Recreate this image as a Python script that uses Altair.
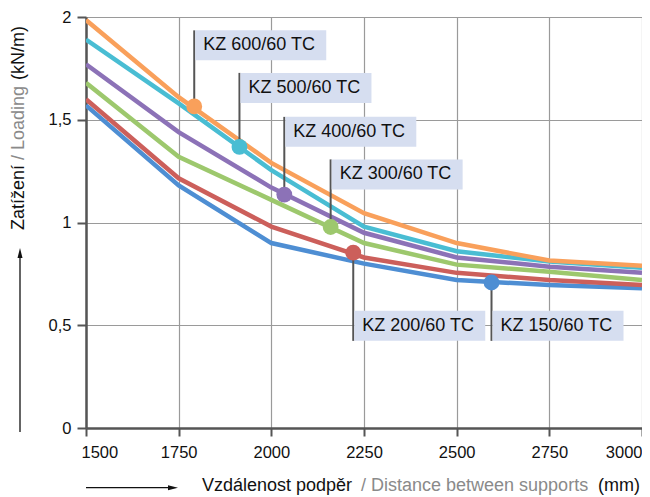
import altair as alt
import pandas as pd

# ---------------- data ----------------
distances = [1500, 1750, 2000, 2250, 2500, 2750, 3000]
series_names = ["KZ 150/60 TC", "KZ 200/60 TC", "KZ 300/60 TC",
                "KZ 400/60 TC", "KZ 500/60 TC", "KZ 600/60 TC"]
kz150 = [1.57, 1.18, 0.90, 0.80, 0.72, 0.696, 0.68]
kz200 = [1.60, 1.215, 0.98, 0.83, 0.755, 0.72, 0.696]
kz300 = [1.68, 1.32, 1.11, 0.90, 0.795, 0.76, 0.72]
kz400 = [1.77, 1.44, 1.17, 0.95, 0.83, 0.785, 0.755]
kz500 = [1.89, 1.58, 1.255, 0.98, 0.86, 0.81, 0.78]
kz600 = [1.985, 1.61, 1.29, 1.045, 0.90, 0.815, 0.79]
series_values = [kz150, kz200, kz300, kz400, kz500, kz600]
series_colors = ["#4e8ed3", "#cc5f5b", "#9dc86d", "#8c72b7", "#49bdd3", "#f9a05b"]

marker_x = [2594, 2221, 2160, 2035, 1914, 1792]
marker_y = [0.708, 0.853, 0.978, 1.136, 1.368, 1.565]
label_top = [0.570, 0.570, 1.307, 1.514, 1.728, 1.935]
label_below = [True, True, False, False, False, False]

y_ticks = [0, 0.5, 1, 1.5, 2]

# ---------------- layout ----------------
W, H = 556, 411
Y_MAX = 2.0
BOX_H = 30 * Y_MAX / H
FONT = "Liberation Sans"

rows = []
for name, vals in zip(series_names, series_values):
    for d, v in zip(distances, vals):
        rows.append({"series": name, "distance": d, "load": v})
df = pd.DataFrame(rows)

lab = pd.DataFrame({"series": series_names, "mx": marker_x, "my": marker_y,
                    "top": label_top})
lab["bottom"] = lab["top"] - BOX_H
lab["lead_end"] = [b if below else t for b, t, below in
                   zip(lab["bottom"], lab["top"], label_below)]

one = pd.DataFrame({"k": [0]})

xs = alt.Scale(domain=[1500, 3000], nice=False, zero=False)
ys = alt.Scale(domain=[0, 2], nice=False)
cs = alt.Scale(domain=series_names, range=series_colors)

x_axis = alt.Axis(
    values=distances, title=None, grid=True, format="d",
    labelAlign=alt.ConditionalAxisLabelAlign(
        condition=[{"test": "datum.value == 1500", "value": "left"},
                   {"test": "datum.value == 3000", "value": "right"}],
        value="center"),
    labelOffset=alt.ConditionalAxisNumber(
        condition={"test": "datum.value == 1500", "value": -5}, value=0),
    labelPadding=8, tickSize=8,
)
y_axis = alt.Axis(values=y_ticks, title=None, grid=True,
                  labelExpr="replace(format(datum.value, '~g'), '.', ',')",
                  labelPadding=6, tickSize=9)

base = alt.Chart(df)

lines = base.mark_line(strokeWidth=4.5, clip=True).encode(
    x=alt.X("distance:Q", scale=xs, axis=x_axis),
    y=alt.Y("load:Q", scale=ys, axis=y_axis),
    color=alt.Color("series:N", scale=cs, legend=None),
    detail="series:N",
)

lb = alt.Chart(lab)
leaders = lb.mark_rule(color="#555555", strokeWidth=2).encode(
    x=alt.X("mx:Q", scale=xs), y=alt.Y("my:Q", scale=ys), y2="lead_end:Q")
boxes = lb.mark_rect(color="#d6def0", xOffset=1, x2Offset=132).encode(
    x=alt.X("mx:Q", scale=xs), x2="mx:Q",
    y=alt.Y("top:Q", scale=ys), y2="bottom:Q")
texts = lb.mark_text(align="left", baseline="middle", dx=9, dy=15,
                     fontSize=18, font=FONT, color="#111111").encode(
    x=alt.X("mx:Q", scale=xs), y=alt.Y("top:Q", scale=ys), text="series:N")
dots = lb.mark_circle(size=250, opacity=1).encode(
    x=alt.X("mx:Q", scale=xs), y=alt.Y("my:Q", scale=ys),
    color=alt.Color("series:N", scale=cs, legend=None))

# ---------------- titles and arrows ----------------
def txt(s, x, y, color, angle=0):
    return alt.Chart(one).mark_text(
        text=s, align="left", baseline="middle", fontSize=18, font=FONT,
        color=color, angle=angle).encode(x=alt.value(x), y=alt.value(y))

BLACK, GREY = "#111111", "#8a8a8a"
xt1 = txt("Vzdálenost podpěr", 116, 469, BLACK)
xt2 = txt("/ Distance between supports", 275, 469, GREY)
xt3 = txt("(mm)", 512, 469, BLACK)
yt1 = txt("Zatížení", -67.5, 213, BLACK, 270)
yt2 = txt("/ Loading", -67.5, 143, GREY, 270)
yt3 = txt("(kN/m)", -67.5, 63, BLACK, 270)

arrow_y = alt.Chart(one).mark_rule(color="#111111", strokeWidth=1.3).encode(
    x=alt.value(-66), y=alt.value(240), y2=alt.value(415))
head_y = alt.Chart(one).mark_point(shape="M0,-1L0.5,1L-0.5,1Z", size=100,
                                   filled=True, color="#111111", opacity=1).encode(
    x=alt.value(-66), y=alt.value(236))
arrow_x = alt.Chart(one).mark_rule(color="#111111", strokeWidth=1.3).encode(
    x=alt.value(0), x2=alt.value(83), y=alt.value(470.7))
head_x = alt.Chart(one).mark_point(shape="M1,0L-1,0.5L-1,-0.5Z", size=100,
                                   filled=True, color="#111111", opacity=1).encode(
    x=alt.value(87), y=alt.value(470.7))

chart = alt.layer(
    lines, leaders, boxes, texts, dots,
    xt1, xt2, xt3, yt1, yt2, yt3, arrow_y, head_y, arrow_x, head_x,
).properties(
    width=W, height=H,
    autosize=alt.AutoSizeParams(type="none"),
    padding={"left": 78, "top": 9, "right": 0, "bottom": 72},
    background="white",
).configure_view(stroke=None).configure_axis(
    gridColor="#9a9a9a", gridWidth=1.2,
    domainColor="#555555", domainWidth=2.5,
    tickColor="#555555", tickWidth=2,
    labelFont=FONT, labelFontSize=16.5, labelColor="#111111",
)

chart.save("out.html", embed_options={"renderer": "svg", "actions": False})
